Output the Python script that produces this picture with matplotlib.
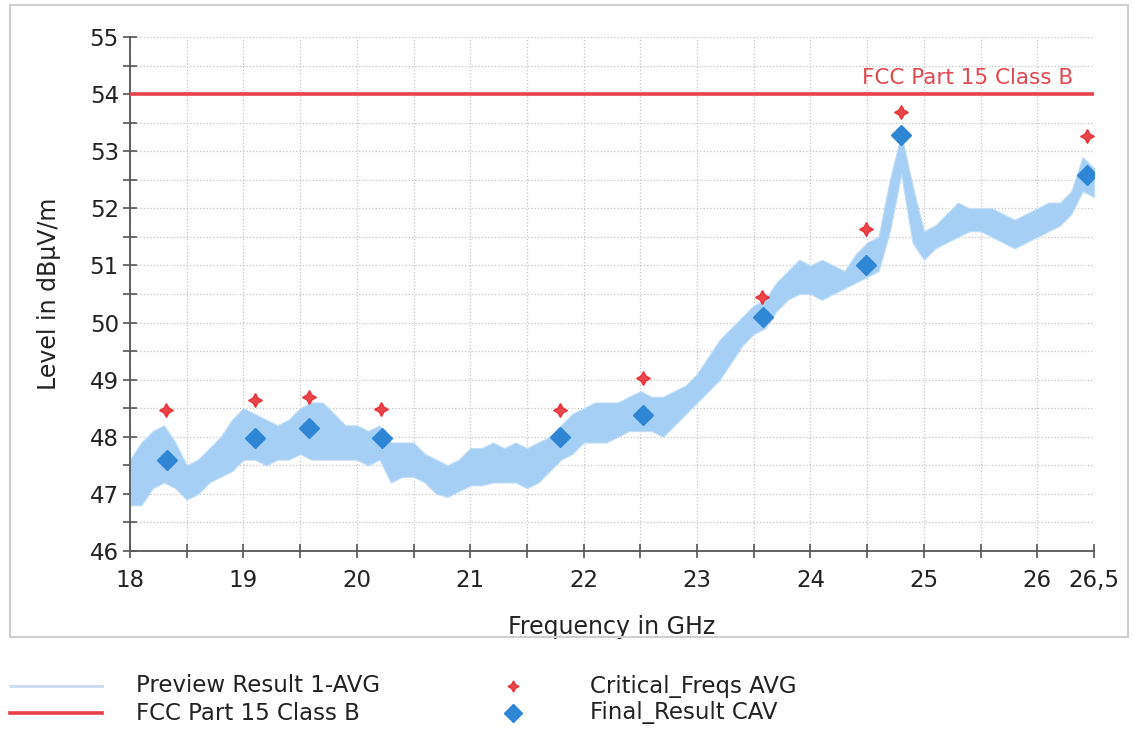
import numpy as np
import matplotlib
matplotlib.use("Agg")
import matplotlib.pyplot as plt
from matplotlib.lines import Line2D
from matplotlib.patches import Rectangle

plt.rcParams['font.family'] = ['DejaVu Sans']

# preview trace, read as lower / upper envelope every 0.1 GHz
freq = np.round(np.arange(18.0, 26.5001, 0.1), 1)
upper = [47.6, 47.9, 48.1, 48.2, 47.9, 47.5, 47.6, 47.8, 48.0, 48.3,
         48.5, 48.4, 48.3, 48.2, 48.3, 48.5, 48.6, 48.6, 48.4, 48.2,
         48.2, 48.1, 48.2, 47.9, 47.9, 47.9, 47.7, 47.6, 47.5, 47.6,
         47.8, 47.8, 47.9, 47.8, 47.9, 47.8, 47.9, 48.0, 48.2, 48.4,
         48.5, 48.6, 48.6, 48.6, 48.7, 48.8, 48.7, 48.7, 48.8, 48.9,
         49.1, 49.4, 49.7, 49.9, 50.1, 50.3, 50.4, 50.7, 50.9, 51.1,
         51.0, 51.1, 51.0, 50.9, 51.2, 51.4, 51.5, 52.5, 53.3, 52.4,
         51.6, 51.7, 51.9, 52.1, 52.0, 52.0, 52.0, 51.9, 51.8, 51.9,
         52.0, 52.1, 52.1, 52.3, 52.9, 52.7]
lower = [46.8, 46.8, 47.1, 47.2, 47.1, 46.9, 47.0, 47.2, 47.3, 47.4,
         47.6, 47.6, 47.5, 47.6, 47.6, 47.7, 47.6, 47.6, 47.6, 47.6,
         47.6, 47.5, 47.6, 47.2, 47.3, 47.3, 47.2, 47.0, 46.95, 47.05,
         47.15, 47.15, 47.2, 47.2, 47.2, 47.1, 47.2, 47.4, 47.6, 47.7,
         47.9, 47.9, 47.9, 48.0, 48.1, 48.1, 48.1, 48.0, 48.2, 48.4,
         48.6, 48.8, 49.0, 49.3, 49.6, 49.8, 49.9, 50.2, 50.4, 50.5,
         50.5, 50.4, 50.5, 50.6, 50.7, 50.8, 50.9, 51.6, 52.6, 51.4,
         51.1, 51.3, 51.4, 51.5, 51.6, 51.6, 51.5, 51.4, 51.3, 51.4,
         51.5, 51.6, 51.7, 51.9, 52.3, 52.2]

limit_freq = [18.0, 26.5]
limit_level = [54.0, 54.0]

crit_freq = [18.32, 19.10, 19.58, 20.21, 21.79, 22.52, 23.57, 24.49, 24.80, 26.44]
crit_level = [48.47, 48.64, 48.70, 48.48, 48.47, 49.03, 50.45, 51.64, 53.68, 53.26]

final_freq = [18.33, 19.10, 19.58, 20.22, 21.79, 22.52, 23.58, 24.49, 24.80, 26.44]
final_level = [47.59, 47.97, 48.16, 47.97, 48.00, 48.39, 50.09, 51.00, 53.28, 52.59]

xticks = [18, 19, 20, 21, 22, 23, 24, 25, 26, 26.5]
xtick_labels = ['18', '19', '20', '21', '22', '23', '24', '25', '26', '26,5']

W, H = 1132, 731
fig = plt.figure(figsize=(W / 100, H / 100), dpi=100)
ax = fig.add_axes([130 / W, 1 - 551 / H, 964 / W, 514 / H])

# trace band
ax.fill_between(freq, lower, upper, color='#a6cff6', lw=0.8,
                edgecolor='#bcdcf8', zorder=2)

ax.plot(limit_freq, limit_level, color='#e8414a', lw=2.6, zorder=3)
ax.text(26.32, 54.1, 'FCC Part 15 Class B', color='#e0474e', fontsize=15.5,
        ha='right', va='bottom', zorder=4)

ax.plot(crit_freq, crit_level, ls='none', marker=(4, 1, 0), ms=10,
        color='#e8262b', alpha=0.85, zorder=5)
ax.plot(final_freq, final_level, ls='none', marker='D', ms=10,
        color='#2f86d4', zorder=6)

ax.set_xlim(18, 26.5)
ax.set_ylim(46, 55)
ax.set_xticks(xticks)
ax.set_xticklabels(xtick_labels)
ax.set_xticks(np.arange(18.5, 26.0, 1.0), minor=True)
ax.set_yticks(np.arange(46, 56, 1))
ax.set_yticks(np.arange(46.5, 55, 1.0), minor=True)

for s in ['top', 'right']:
    ax.spines[s].set_visible(False)
for s in ['left', 'bottom']:
    ax.spines[s].set_color('#555555')
    ax.spines[s].set_linewidth(1.3)

ax.tick_params(which='both', direction='inout', length=10, width=1.2,
               color='#555555', labelsize=16.5, labelcolor='#222222')
ax.tick_params(axis='x', pad=8)
ax.tick_params(axis='y', pad=3)
ax.grid(which='both', color='#c4c4c4', ls=':', lw=0.9, zorder=0)
ax.set_axisbelow(True)

ax.set_xlabel('Frequency in GHz', fontsize=17, color='#222222')
ax.set_ylabel('Level in dBµV/m', fontsize=17, color='#222222')
ax.xaxis.set_label_coords(0.5, -0.125)
ax.yaxis.set_label_coords(-0.072, 0.5)

# outer frame
fig.patches.append(Rectangle((10 / W, 1 - 637 / H), 1118 / W, 632 / H,
                             transform=fig.transFigure, fill=False,
                             ec='#cfcfcf', lw=1.5))

# legend below
y1, y2 = 1 - 686 / H, 1 - 713 / H
fig.add_artist(Line2D([10 / W, 102 / W], [y1, y1], color='#c9dcef', lw=2))
fig.add_artist(Line2D([10 / W, 102 / W], [y2, y2], color='#e8414a', lw=2.6))
fig.add_artist(Line2D([513 / W], [y1], marker=(4, 1, 0), ms=8,
                      color='#e8262b', alpha=0.85))
fig.add_artist(Line2D([513 / W], [y2], marker='D', ms=9, color='#2f86d4'))
fig.text(136 / W, y1, 'Preview Result 1-AVG', fontsize=16.5, va='center', color='#222222')
fig.text(136 / W, y2, 'FCC Part 15 Class B', fontsize=16.5, va='center', color='#222222')
fig.text(590 / W, y1, 'Critical_Freqs AVG', fontsize=16.5, va='center', color='#222222')
fig.text(590 / W, y2, 'Final_Result CAV', fontsize=16.5, va='center', color='#222222')

fig.savefig('out.png', dpi=100)
